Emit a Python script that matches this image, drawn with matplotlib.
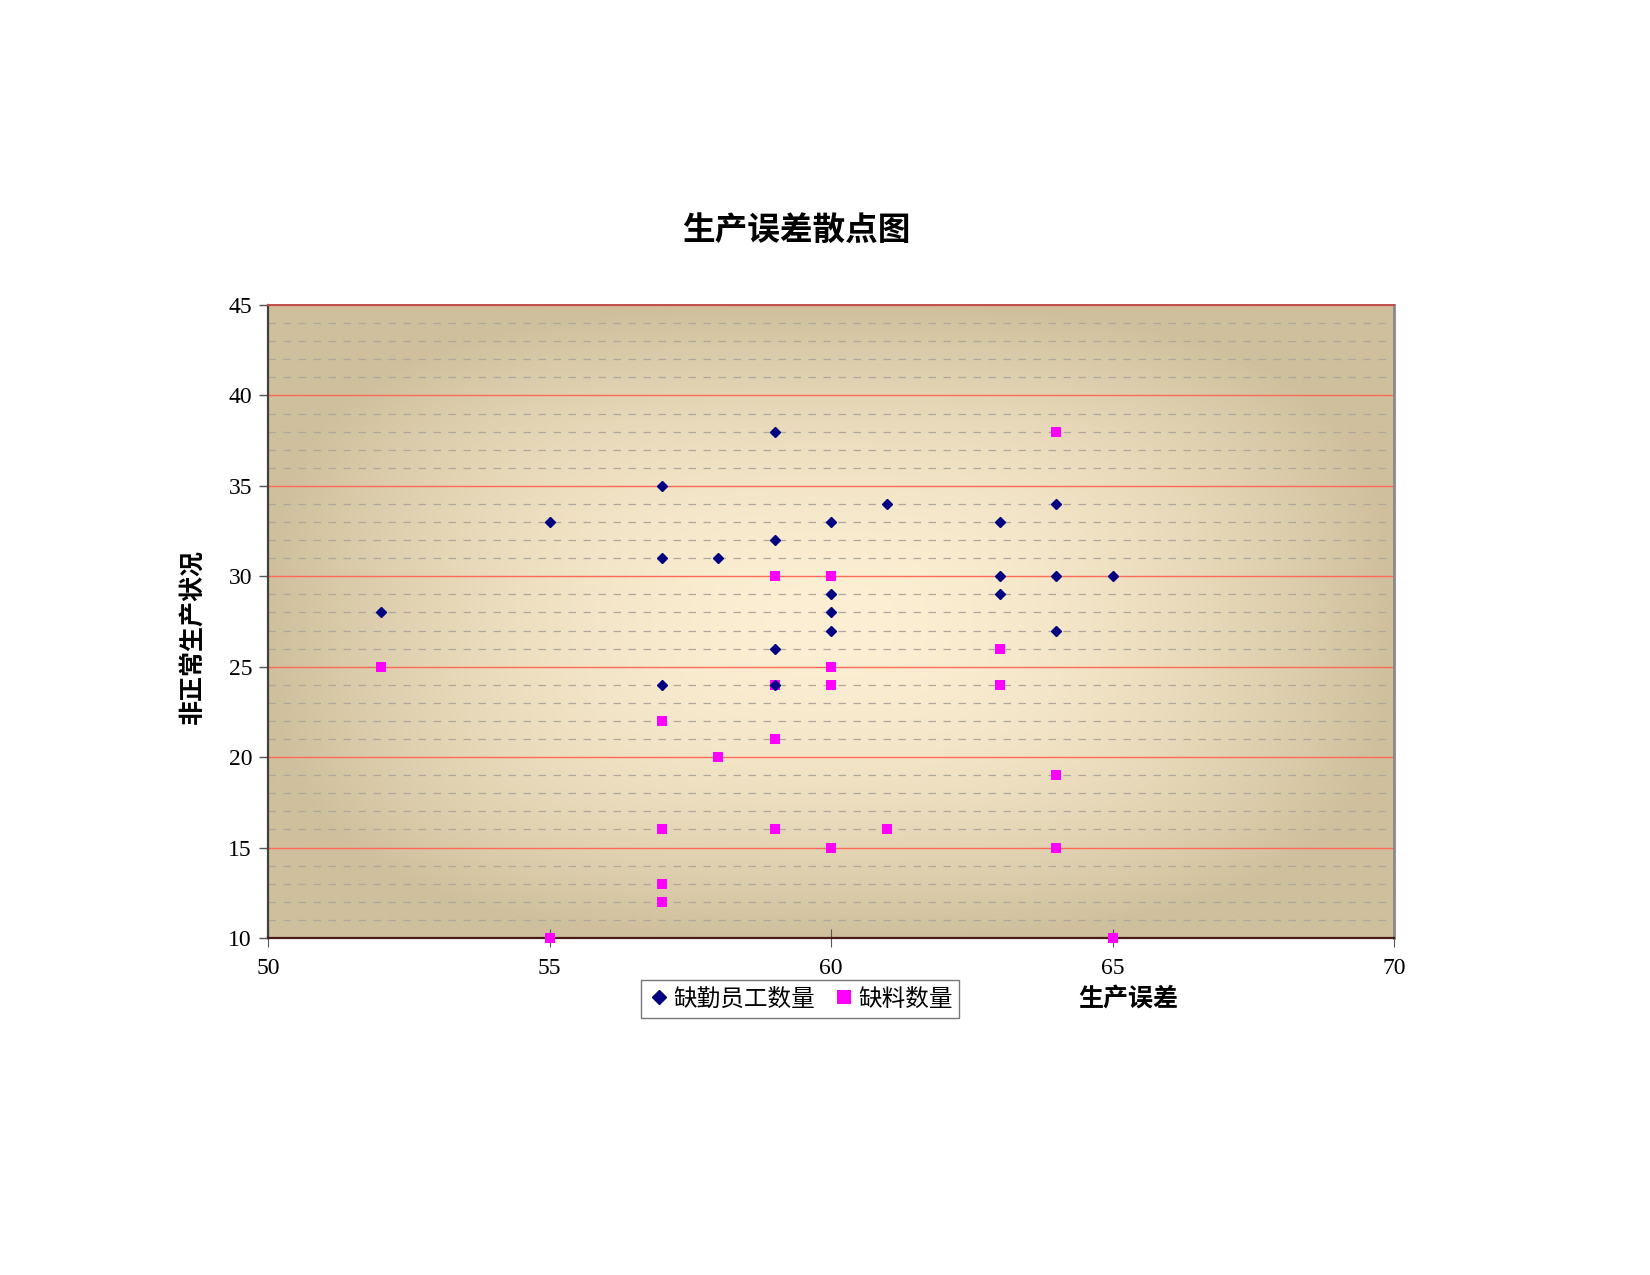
import numpy as np
import matplotlib
matplotlib.use("Agg")
import matplotlib.pyplot as plt
from matplotlib.colors import to_rgb

# data
absent_x = [52, 55, 57, 57, 57, 58, 59, 59, 59, 59, 60, 60, 60, 60, 61, 63, 63, 63, 64, 64, 64, 65]
absent_y = [28, 33, 35, 31, 24, 31, 38, 32, 26, 24, 33, 29, 28, 27, 34, 33, 30, 29, 34, 30, 27, 30]
material_x = [52, 55, 57, 57, 57, 57, 58, 59, 59, 59, 59, 60, 60, 60, 60, 61, 63, 63, 64, 64, 64, 65]
material_y = [25, 10, 22, 16, 13, 12, 20, 30, 24, 21, 16, 30, 25, 24, 15, 16, 26, 24, 38, 19, 15, 10]
series_names = ["缺勤员工数量", "缺料数量"]
x_ticks = [50, 55, 60, 65, 70]
y_ticks = [10, 15, 20, 25, 30, 35, 40, 45]

CJK = ["Noto Sans CJK SC", "DejaVu Sans"]
NUM = "Liberation Serif"

fig = plt.figure(figsize=(16.5, 12.75), dpi=100)
ax = fig.add_axes([268 / 1650, 1 - 938 / 1275, (1394 - 268) / 1650, (938 - 305) / 1275])

# gradient fill: light centre, tan edges
c_mid = np.array(to_rgb("#fdefd3"))
c_edge = np.array(to_rgb("#cfbf9c"))
u = np.linspace(-1, 1, 400)
v = np.linspace(-1, 1, 300)
U, V = np.meshgrid(u, v)
d = (np.abs(U) ** 3 + np.abs(V) ** 3) ** (1 / 3)
t = np.clip(d, 0, 1) ** 1.8
grad = c_mid[None, None, :] * (1 - t[..., None]) + c_edge[None, None, :] * t[..., None]
ax.imshow(grad, extent=[50, 70, 10, 45], aspect="auto", zorder=0, interpolation="bilinear")

ax.set_xlim(50, 70)
ax.set_ylim(10, 45)
ax.set_xticks(x_ticks)
ax.set_yticks(y_ticks)
ax.set_yticks(range(10, 46), minor=True)

ax.grid(which="major", axis="y", color="#ff6a58", lw=1.0, zorder=1)
ax.grid(which="minor", axis="y", color="#aea79c", lw=0.9, ls=(0, (6, 6)), zorder=1)
ax.set_axisbelow(True)

ax.plot(absent_x, absent_y, ls="none", marker="D", ms=5.0, color="#000080",
        mec="#000080", label=series_names[0], zorder=4, clip_on=False)
ax.plot(material_x, material_y, ls="none", marker="s", ms=7.8, color="#ff00ff",
        mew=0, label=series_names[1], zorder=3, clip_on=False)

for side, col, lw in [("left", "#404040", 1.6), ("bottom", "#4a1a1a", 1.6),
                      ("right", "#8a8a8a", 2.0), ("top", "#c0504d", 1.4)]:
    ax.spines[side].set_color(col)
    ax.spines[side].set_linewidth(lw)
    ax.spines[side].set_zorder(2)

ax.tick_params(axis="y", which="major", direction="out", length=6.5, width=1, color="#555555", pad=5)
ax.tick_params(axis="y", which="minor", length=0)
ax.tick_params(axis="x", which="major", direction="inout", length=13, width=0.8, color="#555555", pad=8)
for lab in ax.get_xticklabels() + ax.get_yticklabels():
    lab.set_fontfamily(NUM)
    lab.set_fontsize(17)

fig.text(796 / 1650, 1 - 230 / 1275, "生产误差散点图", family=CJK, fontsize=23.5,
         fontweight="bold", ha="center", va="center")
fig.text(192 / 1650, 1 - 636 / 1275, "非正常生产状况", family=CJK, fontsize=18,
         fontweight="bold", rotation=90, ha="center", va="center")
fig.text(1128 / 1650, 1 - 999 / 1275, "生产误差", family=CJK, fontsize=18,
         fontweight="bold", ha="center", va="center")

leg = ax.legend(loc="center", bbox_to_anchor=(800 / 1650, 1 - 999 / 1275),
                bbox_transform=fig.transFigure, ncol=2, frameon=True, fancybox=False,
                prop={"family": CJK, "size": 17}, handletextpad=0.1, columnspacing=0.7,
                handlelength=1.0, borderpad=0.3, borderaxespad=0, markerscale=1.35)
leg.get_frame().set_edgecolor("#555555")
leg.get_frame().set_linewidth(1.0)

fig.savefig("out.png", dpi=100, facecolor="white")
